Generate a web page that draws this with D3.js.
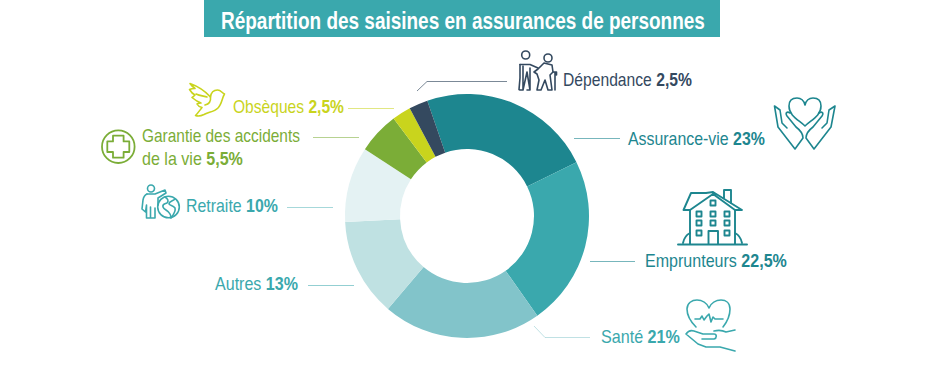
<!doctype html>
<html>
<head>
<meta charset="utf-8">
<script src="https://d3js.org/d3.v7.min.js"></script>
<style>
  html, body { margin: 0; padding: 0; background: #fff; }
  text { font-family: "Liberation Sans", Arial, sans-serif; }
</style>
</head>
<body>
<div id="chart"></div>
<script>
var categories = ["Assurance-vie", "Emprunteurs", "Santé", "Autres", "Retraite", "Garantie des accidents de la vie", "Obsèques", "Dépendance"];
var values = [23, 22.5, 21, 13, 10, 5.5, 2.5, 2.5];
var valueLabels = ["23%", "22,5%", "21%", "13%", "10%", "5,5%", "2,5%", "2,5%"];
var sliceColors = ["#1d868f", "#3aa8ad", "#82c4ca", "#bfe1e2", "#e4f2f3", "#7bad37", "#c9d41d", "#34495f"];
var textColors = ["#1d868f", "#1d868f", "#3aa8ad", "#3aa8ad", "#3aa8ad", "#7bad37", "#c9d41d", "#34495f"];
var title = "Répartition des saisines en assurances de personnes";

var width = 925, height = 365;
var cx = 467, cy = 216, outer = 122, inner = 67;

var svg = d3.select("#chart").append("svg")
  .attr("width", width)
  .attr("height", height)
  .style("display", "block");

// the source font is condensed: squeeze the text to its measured width
function fit(t, x, y, w) {
  var sx = w / t.node().getComputedTextLength();
  t.attr("transform", "translate(" + x + "," + y + ") scale(" + sx + ",1)");
}

// title band
svg.append("rect").attr("x", 204).attr("y", 0).attr("width", 516).attr("height", 37).attr("fill", "#3aa8ad");
fit(svg.append("text").attr("fill", "#fff").attr("font-size", 23).attr("font-weight", 700).text(title), 221, 29, 484);

// donut
var pie = d3.pie().sort(null).value(function(d) { return d; })
  .startAngle(-19 * Math.PI / 180).endAngle(341 * Math.PI / 180);
var arc = d3.arc().innerRadius(inner).outerRadius(outer);
svg.append("g").attr("transform", "translate(" + cx + "," + cy + ")")
  .selectAll("path").data(pie(values)).enter().append("path")
  .attr("d", arc)
  .attr("fill", function(d, i) { return sliceColors[i]; });

// label placement by category
var labelPos = [
  { x: 628, y: 145, w: 137 },
  { x: 645, y: 267, w: 142 },
  { x: 601, y: 343, w: 79 },
  { x: 215, y: 290, w: 83 },
  { x: 186, y: 212, w: 92 },
  { x: 142, y: 165, w: 101, above: "Garantie des accidents", aboveW: 158, name: "de la vie" },
  { x: 233, y: 113, w: 111 },
  { x: 563, y: 86, w: 129 }
];
labelPos.forEach(function(p, i) {
  var t = svg.append("text").attr("font-size", 18).attr("fill", textColors[i]);
  t.append("tspan").text((p.name || categories[i]) + " ");
  t.append("tspan").attr("font-weight", 700).text(valueLabels[i]);
  fit(t, p.x, p.y, p.w);
  if (p.above) {
    fit(svg.append("text").attr("font-size", 18).attr("fill", textColors[i]).text(p.above), p.x, p.y - 23, p.aboveW);
  }
});

// leader lines
var leaders = [
  { d: "M574 138.5H620", c: "#1d868f", o: 0.6 },
  { d: "M590 261.5H635", c: "#1d868f", o: 0.6 },
  { d: "M534 326L545 337.5H590", c: "#82c4ca", o: 0.5 },
  { d: "M308 285.5H354", c: "#3aa8ad", o: 0.55 },
  { d: "M287 207.5H333", c: "#3aa8ad", o: 0.45 },
  { d: "M313 137.5H359", c: "#7bad37", o: 0.55 },
  { d: "M348 108.5H394", c: "#c9d41d", o: 0.55 },
  { d: "M417 91L427 81.5H507", c: "#34495f", o: 0.65 }
];
svg.append("g").selectAll("path").data(leaders).enter().append("path")
  .attr("d", function(d) { return d.d; })
  .attr("fill", "none").attr("stroke", function(d) { return d.c; })
  .attr("stroke-opacity", function(d) { return d.o; });

// pictograms
function icon(color, paths, sw) {
  var g = svg.append("g").attr("fill", "none").attr("stroke", color)
    .attr("stroke-width", sw || 1.6).attr("stroke-linejoin", "round").attr("stroke-linecap", "round");
  paths.forEach(function(d) { g.append("path").attr("d", d); });
  return g;
}
function circlePath(x, y, r) {
  return "M" + (x - r) + " " + y + "a" + r + " " + r + " 0 1 0 " + (2 * r) + " 0a" + r + " " + r + " 0 1 0 " + (-2 * r) + " 0";
}

// dove
icon("#c9d41d", [
  "M224.5 94C222 93 221 90 217.5 90C213 90 211 93 210.5 97C205 91 200 87 190 83.500C191 85 193 87 195 88.500C193 88.500 191.500 88.500 189.500 89.500C191 92 193 94 195 95C194 96 193 97 192 97.500C195 100 198 102 201 103C199 103 198 103.500 197 104C198 106 200 107 202 107.500C200 110 198 113 195.500 115.500C198 116.500 201 116 204 114.500C208 112 214 112 218 108C222 104 222 98 224.500 94Z",
  "M210.500 97C211 101 209 104 205 105",
  "M196 94C200 96 204 96 207 97"
]);

// cross in a circle
icon("#7bad37", [
  circlePath(118.3, 146.7, 16.3),
  "M113 135.700H123.600V141.400H129.300V152H123.600V157.700H113V152H107.300V141.400H113Z"
], 1.8);

// person and globe
icon("#3aa8ad", [
  circlePath(151, 188.5, 3.5),
  circlePath(168.500, 207, 10.800),
  "M147 194H155L165 190L166 193L158 198V205",
  "M147 194C144.500 195 143.500 197 143 200L142 209L145.500 212L146.500 205V218H150.500V207V218H155V208",
  "M165 197C168 199 169 201 167 203C165 204 162 204 163 207C164 210 168 210 170 214C171 216 171.500 217 171 218C174 214 176 211 175 208C173 205 170 206 169 204C169 201 173 201 175 199"
]);

// two people
icon("#34495f", [
  circlePath(525.700, 55, 4),
  circlePath(548, 58, 4),
  "M520 64.500H530L538 68",
  "M520 64.500V78M523 66V90H520L519 89.500L520 78M527 72L523 90M527 72L530 90H527M530 68V90",
  "M544 63L538 69L534 72L537 74L539 80L537 90H541L545 80L548 90H552L550 75L553 72L552 65Z",
  "M553 72H556.500V75M555 72V90"
]);

// heart in hands
icon("#1d868f", [
  "M805 126C799 120 789 116 789 106C789 100 793 98 797 98C801 98 804 101 805 105C806 101 809 98 813 98C817 98 821 100 821 106C821 116 811 120 805 126Z",
  "M774.500 106L778 127L795 149L803 138C803 134 800 130 796 127L787 116C785 113 787 111 790 113M774.500 106L780 110L782 123L787 128",
  "M835 106L831 127L814 149L806 138C806 134 809 130 813 127L822 116C824 113 822 111 819 113M835 106L829 110L827 123L822 128"
]);

// house
var houseWindows = [];
[699, 713, 727].forEach(function(wx) {
  [214, 223, 233].forEach(function(wy) {
    if (wx === 713 && wy === 233) return;
    houseWindows.push("M" + (wx - 2.500) + " " + (wy - 2.500) + "h5v5h-5z");
  });
});
houseWindows.push("M710.500 200.500h5v5h-5z");
icon("#1d868f", [
  "M683.500 210L691 193H706M713 192L742 210H735L713 194L690 210H683.500M706 193L713 192",
  "M690 210V244M735 210V244",
  "M724 198V190H731V203",
  "M708.500 244V231H718V244",
  "M678 244.500H747",
  "M690 233C686 235 684 238 683 243M735 233C739 235 741 238 742 243"
].concat(houseWindows), 1.9);

// heart above a hand
icon("#3aa8ad", [
  "M696 327C691 322 687 316 687 309C687 303 692 300 697 300C702 300 707 303 709 308C711 303 716 300 721 300C726 300 730 303 730 309C730 316 727 322 723 327",
  "M695 319H700L702 316L704 320L707 316L709 314L711 322L713 317L715 319H723",
  "M686 334C688 331 691 330 694 331L703 334H714C717 334 717 338 714 339L702 339M686 334L698 344L706 347H720L735 351M735 330L726 332C722 330 718 330 714 331"
]);
</script>
</body>
</html>
